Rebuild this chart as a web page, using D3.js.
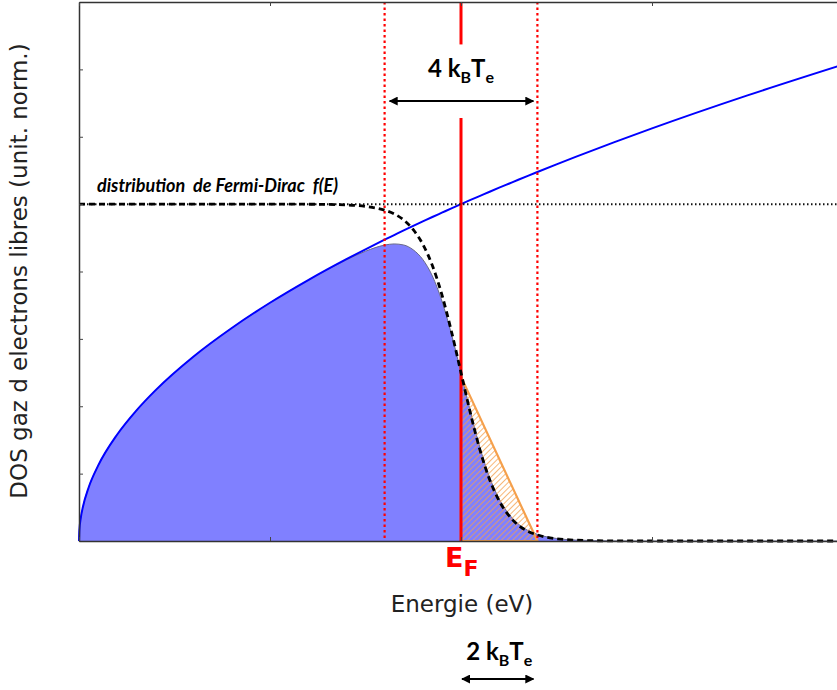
<!DOCTYPE html>
<html>
<head>
<meta charset="utf-8">
<script src="https://cdn.jsdelivr.net/npm/d3@7"></script>
<style>
  body { margin: 0; background: #fff; }
  svg { display: block; overflow: hidden; }
  text { white-space: pre; }
</style>
</head>
<body>
<script>
// energy grid (axis units) and values
var energy = [0, 0.002, 0.01, 0.02, 0.05, 0.1, 0.2, 0.3, 0.4, 0.6, 0.8, 1.0, 1.2, 1.4, 1.5, 1.6,
              1.65, 1.7, 1.75, 1.8, 1.85, 1.9, 1.95, 2.0, 2.05, 2.1, 2.15, 2.2, 2.25, 2.3, 2.35,
              2.4, 2.5, 2.6, 2.8, 3.0, 3.5, 4.0];
// density of states (same units as the y ticks)
var dos = [0, 0.158, 0.354, 0.5, 0.791, 1.118, 1.581, 1.936, 2.236, 2.739, 3.162, 3.536, 3.873, 4.183, 4.33, 4.472,
           4.541, 4.61, 4.677, 4.743, 4.809, 4.873, 4.937, 5.0, 5.062, 5.123, 5.184, 5.244, 5.303, 5.362, 5.42,
           5.477, 5.59, 5.701, 5.916, 6.124, 6.614, 7.071];
// Fermi-Dirac occupation f(E)
var fermi = [1, 1, 1, 1, 1, 1, 1, 1, 1, 1, 1, 1, 0.9997, 0.9975, 0.9933, 0.982,
             0.971, 0.953, 0.924, 0.881, 0.818, 0.731, 0.622, 0.5, 0.378, 0.269, 0.182, 0.119, 0.076, 0.047, 0.029,
             0.018, 0.0067, 0.0025, 0.0003, 0, 0, 0];
var fermiLevel = 5;           // y value where f(E) = 1 is drawn
var EF = 2.0;
var window4kT = [1.6, 2.4];
var window2kT = [2.0, 2.4];
var triangle = [[2.0, 2.44], [2.4, 0], [2.0, 0]];
var xTicks = [0, 1, 2, 3, 4];
var yTicks = [0, 1, 2, 3, 4, 5, 6, 7, 8];

var W = 837, H = 690;
var x = d3.scaleLinear().domain([0, 4]).range([79, 843]);
var y = d3.scaleLinear().domain([0, 8]).range([541, 2]);

var svg = d3.select("body").append("svg")
    .attr("width", W)
    .attr("height", H);

var defs = svg.append("defs");
var pat = defs.append("pattern")
    .attr("id", "hatch")
    .attr("patternUnits", "userSpaceOnUse")
    .attr("width", 4).attr("height", 4)
    .attr("patternTransform", "rotate(45)");
pat.append("line")
    .attr("x1", 0).attr("y1", 0).attr("x2", 0).attr("y2", 4)
    .attr("stroke", "#f5a04c").attr("stroke-width", 1.5);

["start", "end"].forEach(function(k) {
  defs.append("marker")
    .attr("id", "arrow-" + k)
    .attr("viewBox", "0 0 10 10")
    .attr("refX", 9).attr("refY", 5)
    .attr("markerWidth", 4.5).attr("markerHeight", 4.5)
    .attr("orient", "auto-start-reverse")
    .append("path")
    .attr("d", "M0,0 L10,5 L0,10 z")
    .attr("fill", "#000");
});

var pts = energy.map(function(e, i) { return {e: e, dos: dos[i], f: fermi[i]}; });

// filled occupied states
var area = d3.area()
    .x(function(d) { return x(d.e); })
    .y0(y(0))
    .y1(function(d) { return y(d.dos * d.f); })
    .curve(d3.curveMonotoneX);
svg.append("path")
    .datum(pts)
    .attr("d", area)
    .attr("fill", "#8080ff");
svg.append("path")
    .datum(pts)
    .attr("d", d3.line()
        .x(function(d) { return x(d.e); })
        .y(function(d) { return y(d.dos * d.f); })
        .curve(d3.curveMonotoneX))
    .attr("fill", "none")
    .attr("stroke", "#6a6a8a")
    .attr("stroke-width", 1);

// hatched triangle
svg.append("path")
    .datum(triangle)
    .attr("d", d3.line().x(function(d) { return x(d[0]); }).y(function(d) { return y(d[1]); }).curve(d3.curveLinearClosed))
    .attr("fill", "url(#hatch)")
    .attr("stroke", "#f5a04c")
    .attr("stroke-width", 2.2);

// DOS line
svg.append("path")
    .datum(pts)
    .attr("d", d3.line()
        .x(function(d) { return x(d.e); })
        .y(function(d) { return y(d.dos); })
        .curve(d3.curveMonotoneX))
    .attr("fill", "none")
    .attr("stroke", "#0000ff")
    .attr("stroke-width", 2);

// dotted kT window lines
window4kT.forEach(function(e) {
  svg.append("line")
    .attr("x1", x(e)).attr("x2", x(e))
    .attr("y1", y(8)).attr("y2", y(0))
    .attr("stroke", "#ff0000")
    .attr("stroke-width", 2.2)
    .attr("stroke-dasharray", "2.5,3");
});

// E_F line with a gap for the label
[[8, 7.37], [6.28, 0]].forEach(function(s) {
  svg.append("line")
    .attr("x1", x(EF)).attr("x2", x(EF))
    .attr("y1", y(s[0])).attr("y2", y(s[1]))
    .attr("stroke", "#ff0000")
    .attr("stroke-width", 3);
});

// f(E) = 1 dotted level
svg.append("line")
    .attr("x1", x(0)).attr("x2", x(4))
    .attr("y1", y(fermiLevel)).attr("y2", y(fermiLevel))
    .attr("stroke", "#111")
    .attr("stroke-width", 2)
    .attr("stroke-dasharray", "1.5,2.5");

// Fermi-Dirac curve
svg.append("path")
    .datum(pts)
    .attr("d", d3.line()
        .x(function(d) { return x(d.e); })
        .y(function(d) { return y(d.f * fermiLevel); })
        .curve(d3.curveMonotoneX))
    .attr("fill", "none")
    .attr("stroke", "#000")
    .attr("stroke-width", 2.8)
    .attr("stroke-dasharray", "6,4");

// axes (ticks inward)
svg.append("g")
    .attr("transform", "translate(" + x(0) + ",0)")
    .call(d3.axisLeft(y).tickValues(yTicks).tickSize(-4).tickSizeOuter(0).tickFormat(""));
svg.append("g")
    .attr("transform", "translate(0," + y(0) + ")")
    .call(d3.axisBottom(x).tickValues(xTicks).tickSize(-4).tickSizeOuter(0).tickFormat(""));
svg.append("g")
    .attr("transform", "translate(0," + y(8) + ")")
    .call(d3.axisTop(x).tickValues(xTicks).tickSize(-4).tickSizeOuter(0).tickFormat(""));
svg.selectAll(".domain").attr("stroke", "#333").attr("stroke-width", 1.5);
svg.selectAll(".tick line").attr("stroke", "#444");

// arrows
svg.append("line")
    .attr("x1", x(window4kT[0]) + 5).attr("x2", x(window4kT[1]) - 4)
    .attr("y1", y(6.53)).attr("y2", y(6.53))
    .attr("stroke", "#000").attr("stroke-width", 2)
    .attr("marker-start", "url(#arrow-start)")
    .attr("marker-end", "url(#arrow-end)");
svg.append("line")
    .attr("x1", x(window2kT[0]) + 1).attr("x2", x(window2kT[1]) - 4)
    .attr("y1", 679).attr("y2", 679)
    .attr("stroke", "#000").attr("stroke-width", 2)
    .attr("marker-start", "url(#arrow-start)")
    .attr("marker-end", "url(#arrow-end)");

function kT(sel, n) {
  sel.append("tspan").text(n + " k");
  sel.append("tspan").attr("font-size", "16px").attr("dy", 6).text("B");
  sel.append("tspan").attr("dy", -6).text("T");
  sel.append("tspan").attr("font-size", "16px").attr("dy", 6).text("e");
}
svg.append("text")
    .attr("x", x(EF)).attr("y", 77)
    .attr("text-anchor", "middle")
    .attr("font-family", "Lato, 'Open Sans', sans-serif")
    .attr("font-weight", "bold")
    .attr("font-size", "24px")
    .call(kT, 4);
svg.append("text")
    .attr("x", (x(window2kT[0]) + x(window2kT[1])) / 2).attr("y", 660)
    .attr("text-anchor", "middle")
    .attr("font-family", "Lato, 'Open Sans', sans-serif")
    .attr("font-weight", "bold")
    .attr("font-size", "24px")
    .call(kT, 2);

svg.append("text")
    .attr("x", 97).attr("y", 192)
    .attr("font-family", "Lato, 'Open Sans', sans-serif")
    .attr("font-weight", "bold")
    .attr("font-style", "italic")
    .attr("font-size", "18px")
    .text("distribution  de Fermi-Dirac  f(E)");

var ef = svg.append("text")
    .attr("x", x(EF) - 16).attr("y", 567)
    .attr("fill", "#ff0000")
    .attr("font-family", "'DejaVu Sans', sans-serif")
    .attr("font-weight", "bold")
    .attr("font-size", "27px");
ef.append("tspan").text("E");
ef.append("tspan").attr("font-size", "22px").attr("dy", 9).text("F");

svg.append("text")
    .attr("x", 462).attr("y", 612)
    .attr("text-anchor", "middle")
    .attr("fill", "#222")
    .attr("font-family", "'DejaVu Sans', sans-serif")
    .attr("font-size", "23px")
    .text("Energie (eV)");

svg.append("text")
    .attr("transform", "translate(27,271) rotate(-90)")
    .attr("text-anchor", "middle")
    .attr("fill", "#222")
    .attr("font-family", "'DejaVu Sans', sans-serif")
    .attr("font-size", "23px")
    .text("DOS gaz d electrons libres (unit. norm.)");
</script>
</body>
</html>
